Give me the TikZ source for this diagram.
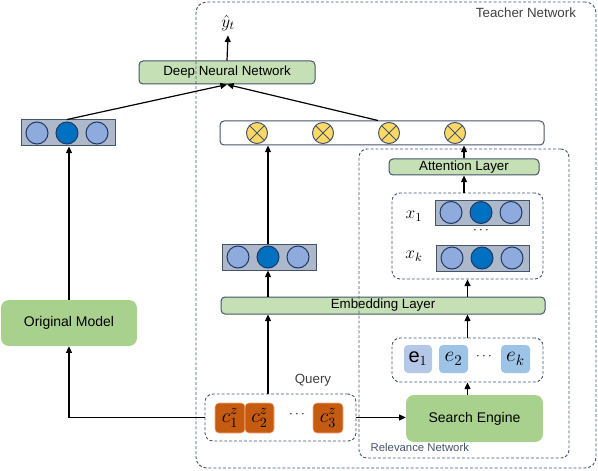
\RequirePackage{fix-cm}
\documentclass[tikz,border=0pt]{standalone}
\usepackage{fontspec}
\setmainfont{Liberation Sans}
\usetikzlibrary{fit,arrows.meta}
\definecolor{slate}{HTML}{44546A}
\definecolor{navy}{HTML}{1F3864}
\definecolor{lgreen}{HTML}{C5E0B4}
\definecolor{mgreen}{HTML}{A9D18E}
\definecolor{vecgray}{HTML}{ADB9CA}
\definecolor{lblue}{HTML}{8FAADC}
\definecolor{dblue}{HTML}{0070C0}
\definecolor{yel}{HTML}{FFD966}
\definecolor{rust}{HTML}{C55A11}
\definecolor{rustedge}{HTML}{F4B183}
\definecolor{eone}{HTML}{B4C7E7}
\definecolor{etwo}{HTML}{9DC3E6}
\definecolor{labgray}{HTML}{404040}
\tikzset{
  box/.style={draw=slate, line width=0.75pt, rounded corners=3pt, inner sep=0pt},
  greenbox/.style={box, fill=lgreen},
  dbox/.style={draw=slate, dash pattern=on 2.2pt off 1.5pt, line width=0.7pt, rounded corners=6pt, inner sep=0pt},
  vecbox/.style={draw=slate, fill=vecgray, line width=0.75pt, inner sep=0pt},
  cl/.style={circle, draw=navy, fill=lblue, line width=0.75pt, minimum size=16.5pt, inner sep=0pt},
  cd/.style={cl, fill=dblue},
  ox/.style={circle, draw=slate, fill=yel, line width=0.75pt, minimum size=15.75pt, inner sep=0pt,
    path picture={\draw[slate, line width=0.75pt]
      (path picture bounding box.north west) -- (path picture bounding box.south east)
      (path picture bounding box.north east) -- (path picture bounding box.south west);}},
  cbox/.style={fill=rust, draw=rustedge, line width=0.4pt, rounded corners=3pt, inner sep=0pt},
  ebox/.style={rounded corners=3pt, inner sep=0pt},
  softbox/.style={fill=mgreen, rounded corners=6pt, inner sep=0pt},
  txt/.style={inner sep=0pt, font=\fontsize{10}{12}\selectfont},
  bigtxt/.style={inner sep=0pt, font=\fontsize{10.5}{12}\selectfont},
  cmath/.style={inner sep=0pt, font=\fontsize{15}{17}\selectfont},
  emath/.style={inner sep=0pt, font=\fontsize{16}{18}\selectfont},
  arr/.style={-{Triangle[length=5pt,width=4.5pt]}, line width=0.9pt, black},
  graylab/.style={text=labgray},
}
\begin{document}
\begin{tikzpicture}[x=0.75pt,y=-0.75pt, font=\fontsize{10}{12}\selectfont]
\useasboundingbox (0,0) rectangle (598,470);

% top part
\node[greenbox, fit={(139,61)(315,84)}] (dnn) {};
\node[txt] (dnnt) at (dnn.center) {Deep Neural Network};
\node[font=\fontsize{13}{15}\selectfont] (yhat) at (228,23) {$\hat{y}_t$};

% left vector
\node[vecbox, fit={(21,120)(115,146)}] (lvec) {};
\node[cl] (lc1) at (37,133) {};
\node[cd] (lc2) at (67,133) {};
\node[cl] (lc3) at (97,133) {};

% otimes bar
\node[box, fill=white, fit={(220,121)(544,145)}] (obar) {};
\node[ox] (o1) at (257,133) {};
\node[ox] (o2) at (323,133) {};
\node[ox] (o3) at (389,133) {};
\node[ox] (o4) at (455,133) {};

% middle vector
\node[vecbox, fit={(222,244)(316,270)}] (mvec) {};
\node[cl] (mc1) at (238,257) {};
\node[cd] (mc2) at (268,257) {};
\node[cl] (mc3) at (298,257) {};

% embedding
\node[greenbox, fit={(221,297)(545,314)}] (emb) {};
\node[txt] (embt) at (383,305.5) {Embedding Layer};

% attention
\node[greenbox, fit={(389,159)(539,175)}] (att) {};
\node[txt] (attt) at (att.center) {Attention Layer};

% x box
\node[dbox, fit={(392,193)(543,279)}] (xbox) {};
\node[vecbox, fit={(435,200)(529,225)}] (x1vec) {};
\node[cl] (xa1) at (451,212.5) {};
\node[cd] (xa2) at (481,212.5) {};
\node[cl] (xa3) at (511,212.5) {};
\node[vecbox, fit={(436,245)(529,271)}] (xkvec) {};
\node[cl] (xb1) at (452,258) {};
\node[cd] (xb2) at (482,258) {};
\node[cl] (xb3) at (512,258) {};
\node (xdots) at (481,231) {$\cdots$};
\node[font=\fontsize{13}{15}\selectfont] (x1lab) at (414,216) {$x_1$};
\node[font=\fontsize{13}{15}\selectfont] (xklab) at (414,256) {$x_k$};

% e box
\node[dbox, fit={(392,338)(543,382)}] (ebox) {};
\node[ebox, fill=eone, fit={(404,345)(432,373)}] (e1) {};
\node[ebox, fill=etwo, fit={(439,345)(468,373)}] (e2) {};
\node[ebox, fill=etwo, fit={(501,345)(530,373)}] (ek) {};
\node[emath] (e1t) at (e1.center) {\fontsize{15}{17}\selectfont e$_1$};
\node[emath] (e2t) at (e2.center) {$e_2$};
\node[emath] (ekt) at (ek.center) {$e_k$};
\node (edots) at (484,357) {$\cdots$};

% search engine
\node[softbox, fit={(406,395)(543,442)}] (se) {};
\node[bigtxt] (set) at (se.center) {Search Engine};

% query
\node[dbox, fit={(205,394)(356,441)}] (qbox) {};
\node[cbox, fit={(215,403)(245,433)}] (c1) {};
\node[cbox, fit={(245,403)(274,433)}] (c2) {};
\node[cbox, fit={(313,403)(343,433)}] (c3) {};
\node[cmath] (c1t) at (c1.center) {$c_1^z$};
\node[cmath] (c2t) at (c2.center) {$c_2^z$};
\node[cmath] (c3t) at (c3.center) {$c_3^z$};
\node (qdots) at (297,415) {$\cdots$};
\node[graylab] (qlab) at (313,380) {Query};

% original model
\node[softbox, fit={(1,300)(137,346)}] (om) {};
\node[bigtxt] (omt) at (om.center) {Original Model};

% containers
\node[dbox, rounded corners=8pt, fit={(196,2)(596,468)}] (teacher) {};
\node[graylab] (tlab) at (526,13) {Teacher Network};
\node[dbox, fit={(359,149)(569,458)}] (rel) {};
\node[text=slate, anchor=west, font=\fontsize{8.5}{10}\selectfont] (rlab) at (366,447) {Relevance Network};

% connectors
\draw[arr] (dnn.north) -- (yhat.south);
\draw[arr] (lvec.north -| lc2) -- (dnn.south);
\draw[arr] (obar.north -| o3.west) -- (dnn.south);
\draw[arr] (mvec.north -| mc2) -- (obar.south -| mc2);
\draw[arr] (emb.north -| mc2) -- (mvec.south -| mc2);
\draw[arr] (qbox.north -| mc2) -- (emb.south -| mc2);
\draw[arr] (att.north) -- (att.north |- obar.south);
\draw[arr] (att.south |- xbox.north) -- (att.south);
\draw[arr] (emb.north -| xbox) -- (xbox.south);
\draw[arr] (ebox.north) -- (ebox.north |- emb.south);
\draw[arr] (se.north -| ebox) -- (ebox.south);
\draw[arr] (qbox.east) -- (qbox.east -| se.west);
\draw[arr] (qbox.west) -| (om.south);
\draw[arr] (om.north) -- (om.north |- lvec.south);
\end{tikzpicture}
\end{document}
